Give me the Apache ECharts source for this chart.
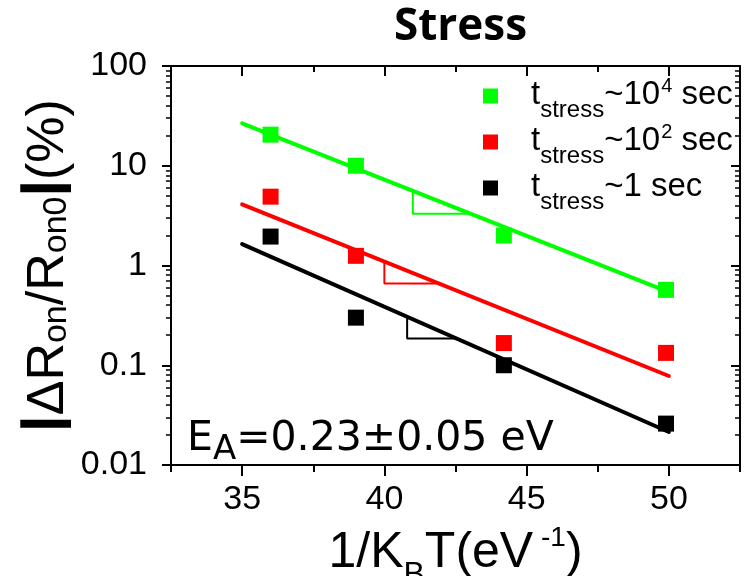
<!DOCTYPE html>
<html>
<head>
<meta charset="utf-8">
<script src="https://cdn.jsdelivr.net/npm/echarts@6/dist/echarts.min.js"></script>
<style>
  html, body { margin: 0; padding: 0; background: #ffffff; }
  #chart { width: 747px; height: 576px; }
</style>
</head>
<body>
<div id="chart"></div>
<script>
// Inverse thermal energy 1/kT (eV^-1) of each measurement temperature
const invKT = [36, 39, 44.2, 49.9];

// |ΔRon/Ron0| (%) for each stress duration
const shiftLong = [20.5, 10.0, 2.0, 0.57];    // ~10^4 s
const shiftMid = [4.9, 1.25, 0.167, 0.133];   // ~10^2 s
const shiftShort = [1.95, 0.30, 0.10, 0.026]; // ~1 s

// Arrhenius fit lines, evaluated at both ends of the fitted range
const fitX = [35, 50];
const fitLong = [26.6, 0.54];
const fitMid = [4.1, 0.078];
const fitShort = [1.64, 0.0214];

// Slope triangles under each fit (vertex on line, right-angle corner, vertex on line)
const triLongX = [41, 41, 43];
const triLongY = [5.5, 3.3, 3.3];
const triMidX = [40, 40, 42];
const triMidY = [1.1, 0.66, 0.66];
const triShortX = [40.8, 40.8, 42.5];
const triShortY = [0.31, 0.185, 0.185];

// Axis ticks
const xMajorTicks = [35, 40, 45, 50];
const xMinorTicks = [32.5, 37.5, 42.5, 47.5, 52.5];
const yMajorTicks = [0.01, 0.1, 1, 10, 100];
const yTickLabels = ['0.01', '0.1', '1', '10', '100'];

const seriesNames = ['stress 1e4 s', 'stress 1e2 s', 'stress 1 s'];
const legendTexts = [
  '{t|t}{s|stress}{m|~10}{p|4}{m| sec}',
  '{t|t}{s|stress}{m|~10}{p|2}{m| sec}',
  '{t|t}{s|stress}{m|~1 sec}'
];

const FONT = 'Liberation Sans';

// minor ticks of the log axis, expressed as log10 values for the overlay axes
const yMinorLog = [];
for (let d = -2; d < 2; d++) {
  for (let k = 2; k <= 9; k++) yMinorLog.push(d + Math.log10(k));
}

function pairs(xs, ys) { return xs.map((x, i) => [x, ys[i]]); }

const groups = [
  { name: seriesNames[0], color: '#00ff00', pts: shiftLong, fit: fitLong, tx: triLongX, ty: triLongY },
  { name: seriesNames[1], color: '#ff0000', pts: shiftMid, fit: fitMid, tx: triMidX, ty: triMidY },
  { name: seriesNames[2], color: '#000000', pts: shiftShort, fit: fitShort, tx: triShortX, ty: triShortY }
];

const series = [];
groups.forEach(g => {
  series.push({
    type: 'line', xAxisIndex: 0, yAxisIndex: 0,
    data: pairs(fitX, g.fit), showSymbol: false, symbol: 'none',
    lineStyle: { color: g.color, width: 4, cap: 'round' }, z: 2, silent: true
  });
  series.push({
    type: 'line', xAxisIndex: 0, yAxisIndex: 0,
    data: pairs(g.tx, g.ty), showSymbol: false, symbol: 'none',
    lineStyle: { color: g.color, width: 2 }, z: 2, silent: true
  });
});
groups.forEach(g => {
  series.push({
    name: g.name, type: 'scatter', xAxisIndex: 0, yAxisIndex: 0,
    data: pairs(invKT, g.pts), symbol: 'rect', symbolSize: 16,
    itemStyle: { color: g.color, opacity: 1 }, z: 3
  });
});

const axisLineStyle = { color: '#000', width: 2 };
const noLabel = { show: false };

const option = {
  animation: false,
  backgroundColor: '#ffffff',
  title: {
    text: 'Stress', left: 389, top: 0,
    textStyle: { fontFamily: 'Open Sans', fontWeight: 'bold', fontSize: 44, color: '#000' }
  },
  grid: { left: 171, right: 7, top: 66, bottom: 111, containLabel: false, outerBoundsMode: 'none' },
  legend: {
    data: seriesNames, orient: 'vertical', left: 483, top: 76, padding: 0, itemGap: 0,
    icon: 'rect', itemWidth: 15, itemHeight: 15, selectedMode: false,
    formatter: name => legendTexts[seriesNames.indexOf(name)],
    textStyle: {
      color: '#000',
      rich: {
        t: { fontFamily: FONT, fontSize: 33, lineHeight: 40, verticalAlign: 'top', padding: [2, 0, 0, 28] },
        s: { fontFamily: FONT, fontSize: 24, lineHeight: 40, verticalAlign: 'top', padding: [22, 0, 0, 0] },
        m: { fontFamily: FONT, fontSize: 33, lineHeight: 40, verticalAlign: 'top', padding: [2, 0, 0, 0] },
        p: { fontFamily: FONT, fontSize: 20, lineHeight: 40, verticalAlign: 'top', padding: [0, 0, 0, 1] }
      }
    }
  },
  graphic: [{
    type: 'text', left: 187, top: 419, z: 10,
    style: {
      text: '{e|E}{a|A}{e|=0.23±0.05 eV}',
      fill: '#000',
      rich: {
        e: { fontFamily: 'DejaVu Sans', fontSize: 41, lineHeight: 50, verticalAlign: 'top', padding: [0, 0, 0, 0], fill: '#000' },
        a: { fontFamily: 'DejaVu Sans', fontSize: 34, lineHeight: 50, verticalAlign: 'top', padding: [14, 0, 0, 0], fill: '#000' }
      }
    }
  }],
  xAxis: [
    {
      type: 'value', position: 'bottom', min: 32.5, max: 52.5,
      axisLine: { show: true, onZero: false, lineStyle: axisLineStyle },
      axisTick: { show: true, customValues: xMajorTicks, length: 11, lineStyle: { width: 2, color: '#000' } },
      axisLabel: { show: true, customValues: xMajorTicks, margin: 18, fontFamily: FONT, fontSize: 34, color: '#000' },
      splitLine: { show: false },
      name: '{m|1/K}{b|B}{m|T(eV}{p| -1}{m|)}',
      nameLocation: 'middle', nameGap: 58, nameMoveOverlap: false,
      nameTextStyle: {
        color: '#000',
        rich: {
          m: { fontFamily: FONT, fontSize: 50, lineHeight: 60, verticalAlign: 'top', padding: [5, 0, 0, 0] },
          b: { fontFamily: FONT, fontSize: 32, lineHeight: 60, verticalAlign: 'top', padding: [36, 0, 0, 0] },
          p: { fontFamily: FONT, fontSize: 28, lineHeight: 60, verticalAlign: 'top', padding: [1, 0, 0, 0] }
        }
      }
    },
    {
      type: 'value', position: 'bottom', min: 32.5, max: 52.5,
      axisLine: { show: false, onZero: false },
      axisTick: { show: true, customValues: xMinorTicks, length: 7, lineStyle: { width: 2, color: '#000' } },
      axisLabel: noLabel, splitLine: { show: false }
    },
    {
      type: 'value', position: 'top', min: 32.5, max: 52.5,
      axisLine: { show: true, onZero: false, lineStyle: axisLineStyle },
      axisTick: { show: true, inside: true, customValues: xMajorTicks, length: 10, lineStyle: { width: 2, color: '#000' } },
      axisLabel: noLabel, splitLine: { show: false }
    },
    {
      type: 'value', position: 'top', min: 32.5, max: 52.5,
      axisLine: { show: false, onZero: false },
      axisTick: { show: true, inside: true, customValues: xMinorTicks, length: 6, lineStyle: { width: 2, color: '#000' } },
      axisLabel: noLabel, splitLine: { show: false }
    }
  ],
  yAxis: [
    {
      type: 'log', logBase: 10, position: 'left', min: 0.01, max: 100,
      axisLine: { show: true, onZero: false, lineStyle: axisLineStyle },
      axisTick: { show: true, length: 9, lineStyle: { width: 2, color: '#000' } },
      axisLabel: {
        show: true, margin: 24, fontFamily: FONT, fontSize: 34, color: '#000',
        formatter: v => {
          const i = yMajorTicks.findIndex(t => Math.abs(Math.log10(t) - Math.log10(v)) < 1e-6);
          return i >= 0 ? yTickLabels[i] : '';
        }
      },
      splitLine: { show: false },
      name: '{b||}{m|ΔR}{s|on}{m|/R}{s|on0}{b||}{m|(%)}',
      nameLocation: 'middle', nameRotate: 90, nameGap: 100, nameMoveOverlap: false,
      nameTextStyle: {
        color: '#000',
        rich: {
          m: { fontFamily: FONT, fontSize: 52, lineHeight: 60, verticalAlign: 'top', padding: [12, 0, 0, 0] },
          b: { fontFamily: FONT, fontSize: 52, fontWeight: 'bold', lineHeight: 60, verticalAlign: 'top', padding: [8, 1, 0, 1],
               textBorderColor: '#000', textBorderWidth: 1.5 },
          s: { fontFamily: FONT, fontSize: 34, lineHeight: 60, verticalAlign: 'top', padding: [29, 0, 0, 0] }
        }
      }
    },
    {
      type: 'value', position: 'left', min: -2, max: 2,
      axisLine: { show: false, onZero: false },
      axisTick: { show: true, customValues: yMinorLog, length: 5, lineStyle: { width: 1.5, color: '#000' } },
      axisLabel: noLabel, splitLine: { show: false }
    },
    {
      type: 'log', logBase: 10, position: 'right', min: 0.01, max: 100,
      axisLine: { show: true, onZero: false, lineStyle: axisLineStyle },
      axisTick: { show: true, inside: true, length: 9, lineStyle: { width: 2, color: '#000' } },
      axisLabel: noLabel, splitLine: { show: false }
    },
    {
      type: 'value', position: 'right', min: -2, max: 2,
      axisLine: { show: false, onZero: false },
      axisTick: { show: true, inside: true, customValues: yMinorLog, length: 5, lineStyle: { width: 1.5, color: '#000' } },
      axisLabel: noLabel, splitLine: { show: false }
    }
  ],
  series: series
};

const chart = echarts.init(document.getElementById('chart'), null, { renderer: 'canvas' });
chart.setOption(option);
</script>
</body>
</html>
